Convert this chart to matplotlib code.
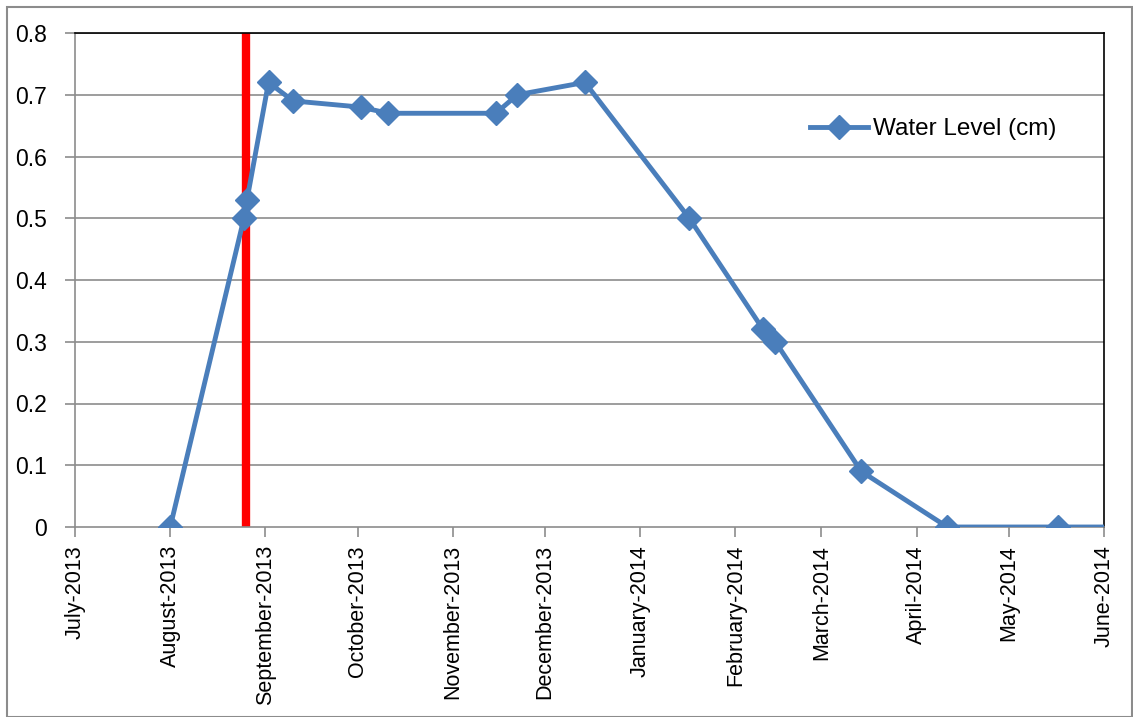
import matplotlib
matplotlib.use("Agg")
import matplotlib.pyplot as plt
from matplotlib.patches import Rectangle
import datetime as dt

plt.rcParams['font.family'] = ['Liberation Sans', 'DejaVu Sans']

dates = ["2013-08-01", "2013-08-25", "2013-08-26", "2013-09-02", "2013-09-10",
         "2013-10-02", "2013-10-11", "2013-11-15", "2013-11-22", "2013-12-14",
         "2014-01-17", "2014-02-10", "2014-02-14", "2014-03-14", "2014-04-11",
         "2014-05-17", "2014-06-15"]
water_level = [0.0, 0.50, 0.53, 0.72, 0.69,
               0.68, 0.67, 0.67, 0.70, 0.72,
               0.50, 0.32, 0.30, 0.09, 0.0,
               0.0, 0.0]
event_date = "2013-08-25"
tick_months = ["2013-07-01", "2013-08-01", "2013-09-01", "2013-10-01", "2013-11-01",
               "2013-12-01", "2014-01-01", "2014-02-01", "2014-03-01", "2014-04-01",
               "2014-05-01", "2014-06-01"]
tick_labels = ["July-2013", "August-2013", "September-2013", "October-2013",
               "November-2013", "December-2013", "January-2014", "February-2014",
               "March-2014", "April-2014", "May-2014", "June-2014"]
y_ticks = [0, 0.1, 0.2, 0.3, 0.4, 0.5, 0.6, 0.7, 0.8]
y_labels = ["0", "0.1", "0.2", "0.3", "0.4", "0.5", "0.6", "0.7", "0.8"]

to_d = lambda s: dt.datetime.strptime(s, "%Y-%m-%d")
x = [to_d(d) for d in dates]
ticks = [to_d(d) for d in tick_months]

W, H = 1133, 717
fig = plt.figure(figsize=(W / 100, H / 100), dpi=100)
ax = fig.add_axes([75 / W, 1 - 527 / H, (1104 - 75) / W, (527 - 33) / H])

for yv in y_ticks[1:]:
    ax.axhline(yv, color="#8c8c8c", lw=1.2, zorder=1)

ax.axvline(to_d(event_date) + dt.timedelta(hours=18), color="#ff0000", lw=6, zorder=2)

line, = ax.plot(x, water_level, color="#4a7ebb", lw=3.5, marker="D", markersize=12,
                markerfacecolor="#4a7ebb", markeredgecolor="#4a7ebb",
                label="Water Level (cm)", zorder=3, clip_on=True)

ax.set_xlim(ticks[0], ticks[-1])
ax.set_ylim(0, 0.8)
ax.set_xticks(ticks)
ax.set_xticklabels(tick_labels, rotation=90, fontsize=15.5)
ax.set_yticks(y_ticks)
ax.set_yticklabels(y_labels, fontsize=16.5)
ax.tick_params(axis="both", direction="out", length=7, width=1.2, color="#8c8c8c")
ax.tick_params(axis="x", pad=6)
ax.tick_params(axis="y", pad=13)

for side in ["left", "bottom"]:
    ax.spines[side].set_color("#8c8c8c")
    ax.spines[side].set_linewidth(1.2)
for side in ["top", "right"]:
    ax.spines[side].set_color("#000000")
    ax.spines[side].set_linewidth(1.2)

leg = ax.legend(loc="upper left", bbox_to_anchor=((810 - 75) / (1104 - 75), 1 - (118 - 33) / (527 - 33)),
                frameon=False, fontsize=17.5, handlelength=2.4, handletextpad=0.2,
                borderpad=0, borderaxespad=0)

fig.patches.append(Rectangle((7 / W, 0), (W - 8) / W, 1 - 7 / H, transform=fig.transFigure,
                             fill=False, edgecolor="#8c8c8c", lw=1.5))

fig.savefig("out.png", dpi=100)
